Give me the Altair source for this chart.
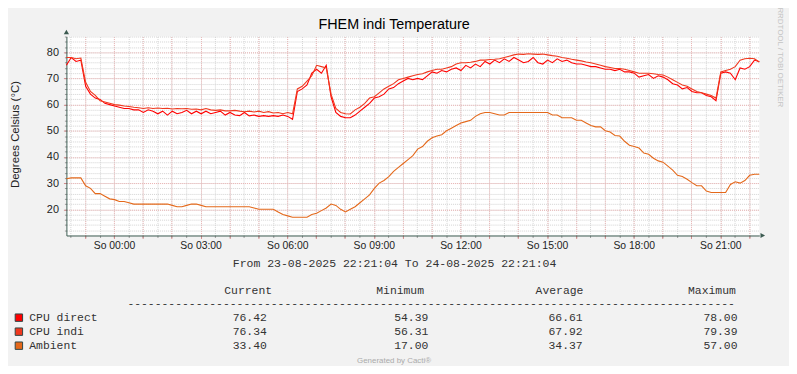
import altair as alt
import pandas as pd

# ---------------- data ----------------
TITLE = "FHEM indi Temperature"
Y_TITLE = "Degrees Celsius (°C)"
START_LABEL = "23-08-2025 22:21:04"
END_LABEL = "24-08-2025 22:21:04"
START_HOUR = -(1 + 38 / 60 + 56 / 3600)   # 22:21:04, hours relative to 00:00
STEP_MIN = 10

SERIES = ["CPU direct", "CPU indi", "Ambient"]
COLORS = ["#FF0000", "#F0381E", "#E4681A"]

CPU_DIRECT = [
    75.0, 78.0, 76.5, 77.0, 67.0, 64.0, 62.5, 62.0, 60.5, 60.0,
    59.5, 59.0, 58.5, 58.5, 58.0, 58.0, 57.0, 58.0, 57.5, 56.5,
    57.5, 56.0, 57.5, 56.5, 57.0, 57.8, 56.5, 57.5, 56.5, 57.5,
    56.5, 57.0, 57.5, 56.0, 57.0, 56.0, 55.8, 57.0, 55.7, 56.0,
    55.5, 55.8, 55.5, 55.8, 55.5, 56.0, 55.5, 54.4, 65.0, 66.0,
    67.5, 72.0, 73.5, 72.0, 75.0, 63.0, 57.0, 55.5, 55.0, 55.0,
    56.0, 57.5, 59.0, 60.5, 62.5, 63.0, 64.0, 66.0, 66.5, 68.0,
    69.0, 70.0, 69.5, 70.0, 69.5, 71.0, 72.5, 72.0, 73.0, 72.5,
    73.5, 74.0, 73.0, 75.0, 74.0, 75.5, 74.5, 76.5, 75.5, 77.0,
    76.0, 77.5, 76.5, 78.0, 77.0, 76.0, 76.5, 78.0, 76.0, 75.5,
    77.0, 76.0, 77.5, 76.5, 77.0, 76.0, 75.5, 75.5, 75.0, 74.5,
    74.5, 74.0, 73.5, 73.5, 73.0, 73.5, 72.5, 72.5, 72.0, 70.5,
    71.0, 71.5, 70.0, 71.0, 70.5, 69.5, 68.0, 67.5, 66.0, 66.5,
    65.0, 64.5, 64.5, 63.5, 63.0, 61.5, 72.0, 72.5, 72.0, 69.5,
    74.0, 73.5, 74.5, 77.0, 76.4,
]
CPU_INDI = [
    78.0, 78.0, 77.5, 77.8, 68.5, 65.0, 63.5, 61.5, 61.0, 60.5,
    60.0, 59.8, 59.5, 59.3, 59.0, 58.8, 58.5, 58.8, 58.5, 58.7,
    58.5, 58.6, 58.3, 58.5, 58.4, 58.5, 58.2, 58.3, 58.0, 58.5,
    58.0, 57.8, 58.0, 57.6, 57.6, 57.8, 57.5, 57.3, 57.5, 57.2,
    57.5, 57.0, 57.3, 56.8, 57.0, 56.5, 57.0, 56.5, 66.0, 67.0,
    69.0, 71.0, 75.0, 74.5, 74.0, 64.0, 58.5, 57.0, 56.5, 56.4,
    58.0, 59.0, 60.5, 62.5, 63.0, 64.5, 66.0, 67.0, 68.0, 69.5,
    70.0, 70.5, 71.0, 71.5, 71.8, 72.5, 73.0, 73.5, 73.5, 74.0,
    74.5, 75.5, 76.0, 76.0, 76.2, 76.5, 77.0, 77.0, 77.2, 77.3,
    77.5, 78.0, 78.5, 79.0, 79.3, 79.2, 79.4, 79.3, 79.2, 79.3,
    79.0, 78.7, 78.5, 78.0, 77.7, 77.3, 77.0, 76.7, 76.3, 76.0,
    75.5, 75.0, 74.5, 74.2, 73.8, 73.8, 73.5, 73.0, 72.5, 72.0,
    72.0, 72.0, 71.8, 71.5, 71.3, 70.5, 69.5, 68.5, 67.5, 67.0,
    66.0, 65.0, 64.5, 64.0, 63.5, 62.5, 72.5, 73.0, 73.5, 74.5,
    77.0, 77.5, 77.7, 77.5, 76.3,
]
AMBIENT = [
    31.7, 32, 32, 32, 29, 28, 26, 26, 25, 24,
    23.7, 23, 23, 22.5, 22, 22, 22, 22, 22, 22,
    22, 22, 21.5, 21, 21, 21.5, 22, 22, 21.5, 21,
    21, 21, 21, 21, 21, 21, 21, 21, 21, 20.5,
    20, 20, 20, 20, 19, 18, 17.5, 17, 17, 17,
    17, 18, 18.5, 19.5, 20.5, 22, 21.5, 20, 19, 20,
    21, 22.5, 24, 25.5, 28, 30, 31, 32.5, 34.5, 36,
    37.5, 39, 40.5, 43, 44, 46, 47.3, 48, 48.5, 50,
    51, 52, 53, 53.5, 54, 55.5, 56.5, 57, 57, 56.5,
    56, 56, 57, 57, 57, 57, 57, 57, 57, 57,
    57, 56, 56, 55, 55, 55, 54, 54, 53, 52,
    51.5, 51.5, 50, 49.5, 48.2, 48, 46, 44.5, 44, 43.4,
    41.5, 41, 39.5, 38.5, 38, 36.5, 35, 33, 32.5, 31.5,
    30.2, 29, 29, 27, 26.4, 26.4, 26.4, 26.4, 29.5, 30.5,
    30, 31, 33, 33.4, 33.4,
]

CURRENT = [76.42, 76.34, 33.40]
MINIMUM = [54.39, 56.31, 17.00]
AVERAGE = [66.61, 67.92, 34.37]
MAXIMUM = [78.00, 79.39, 57.00]
STAT_HEADERS = ["Current", "Minimum", "Average", "Maximum"]

X_TICKS = [0, 3, 6, 9, 12, 15, 18, 21]
X_TICK_LABELS = ["So 00:00", "So 03:00", "So 06:00", "So 09:00",
                 "So 12:00", "So 15:00", "So 18:00", "So 21:00"]
Y_TICKS = [20, 30, 40, 50, 60, 70, 80]
Y_DOMAIN = [10, 86]

# ---------------- tables ----------------
n = len(CPU_DIRECT)
T0 = START_HOUR
T1 = START_HOUR + (n - 1) * STEP_MIN / 60
times = [START_HOUR + k * STEP_MIN / 60 for k in range(n)]
rows = []
for name, vals in zip(SERIES, [CPU_DIRECT, CPU_INDI, AMBIENT]):
    for t, v in zip(times, vals):
        rows.append({"t": t, "v": v, "series": name})
df = pd.DataFrame(rows)

stats = pd.DataFrame({"name": SERIES, "cur": CURRENT, "mn": MINIMUM,
                      "avg": AVERAGE, "mx": MAXIMUM})

# ---------------- styling ----------------
W, H = 700, 201
PLOT_X, PLOT_Y = 67, 35          # page position of plot origin
PAD_L, PAD_T = PLOT_X - 8, PLOT_Y - 8
TOTAL_W, TOTAL_H = 789, 358
AXIS_COL = "#3B5A50"
SANS = "Liberation Sans"
MONO = "Liberation Mono"
TXT = "#222222"
MINOR_COL = "#D2D2D2"
MAJOR_COL = "#EDB4B4"


def px(x):
    return x - PLOT_X


def py(y):
    return y - PLOT_Y


xscale = alt.Scale(domain=[T0, T1], nice=False, zero=False)
yscale = alt.Scale(domain=Y_DOMAIN, nice=False, zero=False)

minor_x = [h / 2 for h in range(-3, 45)]
major_x = list(range(-1, 23))
minor_y = list(range(12, 87, 2))
major_y = list(range(20, 81, 10))

base = alt.Chart(df)

minor_grid = base.mark_line(opacity=0).encode(
    x=alt.X("t:Q", scale=xscale, axis=alt.Axis(
        orient="bottom", values=minor_x, grid=True, gridColor=MINOR_COL,
        gridDash=[1, 1], gridWidth=1, labels=False, domain=False,
        ticks=True, tickSize=2, tickColor="#999999", title=None)),
    y=alt.Y("v:Q", scale=yscale, axis=alt.Axis(
        orient="left", values=minor_y, grid=True, gridColor=MINOR_COL,
        gridDash=[1, 1], gridWidth=1, labels=False, domain=False,
        ticks=True, tickSize=2, tickColor="#999999", title=None)),
    detail="series:N",
)

major_grid = base.mark_line(opacity=0).encode(
    x=alt.X("t:Q", scale=xscale, axis=alt.Axis(
        orient="bottom", values=major_x, grid=True, gridColor=MAJOR_COL,
        gridDash=[1, 1], gridWidth=1, labels=False, domain=False,
        ticks=True, tickSize=3, tickColor="#D08A8A", title=None)),
    y=alt.Y("v:Q", scale=yscale, axis=alt.Axis(
        orient="left", values=major_y, grid=True, gridColor=MAJOR_COL,
        gridDash=[1, 1], gridWidth=1, labels=False, domain=False,
        ticks=True, tickSize=3, tickColor="#D08A8A", title=None)),
    detail="series:N",
)

label_expr = "[" + ",".join("'%s'" % s for s in X_TICK_LABELS) + "][round(datum.value / 3)]"

lines = base.mark_line(strokeWidth=1.1).encode(
    x=alt.X("t:Q", scale=xscale, axis=alt.Axis(
        orient="bottom", values=X_TICKS, labelExpr=label_expr, grid=False,
        ticks=False, domain=True, domainColor=AXIS_COL, domainWidth=1,
        labelFont=SANS, labelFontSize=10.5, labelColor=TXT, labelPadding=5,
        labelBaseline="top",
        title="From %s To %s" % (START_LABEL, END_LABEL),
        titleFont=MONO, titleFontSize=11.6, titleFontWeight="normal",
        titleColor="#333333", titleX=px(398), titleY=28.5,
        titleAlign="center", titleBaseline="middle")),
    y=alt.Y("v:Q", scale=yscale, axis=alt.Axis(
        orient="left", values=Y_TICKS, grid=False, ticks=False, domain=True,
        domainColor=AXIS_COL, domainWidth=1, labelFont=SANS,
        labelFontSize=11, labelColor=TXT, labelPadding=8,
        title=Y_TITLE, titleFont=SANS, titleFontSize=11.5,
        titleFontWeight="normal", titleColor=TXT, titleX=px(15.5),
        titleY=py(133.5), titleAngle=270, titleAlign="center",
        titleBaseline="middle")),
    color=alt.Color("series:N", scale=alt.Scale(domain=SERIES, range=COLORS),
                    legend=None),
    order=alt.Order("series_order:Q"),
).transform_calculate(
    series_order="datum.series == 'Ambient' ? 0 : (datum.series == 'CPU indi' ? 1 : 2)"
)

# axis arrows anchored at the domain ends
arrow_src = pd.DataFrame({"a": [0]})
arrow_up = alt.Chart(arrow_src).mark_point(
    shape="triangle-up", size=28, filled=True, color=AXIS_COL, opacity=1,
    yOffset=-4.5).encode(
    x=alt.X(datum=T0, type="quantitative", scale=xscale, axis=None),
    y=alt.Y(datum=Y_DOMAIN[1], type="quantitative", scale=yscale, axis=None))
arrow_right = alt.Chart(arrow_src).mark_point(
    shape="triangle-right", size=28, filled=True, color=AXIS_COL, opacity=1,
    xOffset=3.5).encode(
    x=alt.X(datum=T1, type="quantitative", scale=xscale, axis=None),
    y=alt.Y(datum=Y_DOMAIN[0], type="quantitative", scale=yscale, axis=None))

# legend table rows placed by a point scale
row_y = alt.Y("name:N", sort=SERIES, axis=None,
              scale=alt.Scale(type="point", domain=SERIES,
                              range=[py(319.5), py(347.8)], padding=0))
legend_base = alt.Chart(stats)
swatches = legend_base.mark_square(
    size=56, filled=True, opacity=1, stroke="#2F4646", strokeWidth=1,
    yOffset=-0.5).encode(
    x=alt.value(px(19)), y=row_y,
    color=alt.Color("name:N", scale=alt.Scale(domain=SERIES, range=COLORS),
                    legend=None))
mono_kw = dict(font=MONO, fontSize=11.5, color="#333333", baseline="middle")
names = legend_base.mark_text(align="left", **mono_kw).encode(
    x=alt.value(px(29.5)), y=row_y, text="name:N")
col_cur = legend_base.mark_text(align="right", **mono_kw).encode(
    x=alt.value(px(269.5)), y=row_y, text=alt.Text("cur:Q", format=".2f"))
col_min = legend_base.mark_text(align="right", **mono_kw).encode(
    x=alt.value(px(432.6)), y=row_y, text=alt.Text("mn:Q", format=".2f"))
col_avg = legend_base.mark_text(align="right", **mono_kw).encode(
    x=alt.value(px(588.5)), y=row_y, text=alt.Text("avg:Q", format=".2f"))
col_max = legend_base.mark_text(align="right", **mono_kw).encode(
    x=alt.value(px(745)), y=row_y, text=alt.Text("mx:Q", format=".2f"))


def deco(txt, x, y, **kw):
    return alt.Chart(pd.DataFrame({"label": [txt]})).mark_text(**kw).encode(
        text="label:N", x=alt.value(x), y=alt.value(y))


header_x = [226.5, 380, 541, 695]
headers = [deco(h, px(hx), py(292.5), align="left", **mono_kw)
           for h, hx in zip(STAT_HEADERS, header_x)]
dashes = deco("-" * 89, px(128.6), py(305.5), align="left", **mono_kw)
title = deco(TITLE, px(398), py(23), font=SANS, fontSize=14.5,
             color="#000000", align="center", baseline="middle")
rrd = deco("RRDTOOL / TOBI OETIKER", px(788), py(56), font=SANS,
           fontSize=8, color="#C4C4C4", align="center", baseline="middle",
           angle=90)
cacti = deco("Generated by Cacti®", px(398), py(362.5), font=SANS,
             fontSize=8, color="#ABABAB", align="center", baseline="middle")

chart = alt.layer(
    minor_grid, major_grid, lines, arrow_up, arrow_right,
    swatches, names, col_cur, col_min, col_avg, col_max,
    *headers, dashes, title, rrd, cacti,
).resolve_scale(
    y="independent"
).resolve_axis(
    x="independent", y="independent"
).properties(
    width=W, height=H,
    padding={"left": PAD_L, "top": PAD_T,
             "right": TOTAL_W - PAD_L - W, "bottom": TOTAL_H - PAD_T - H},
    autosize=alt.AutoSizeParams(type="none"),
    background="#F2F2F2",
).configure_view(
    fill="white", stroke=None
)

chart.save("out.html", embed_options={"renderer": "svg", "actions": False})
